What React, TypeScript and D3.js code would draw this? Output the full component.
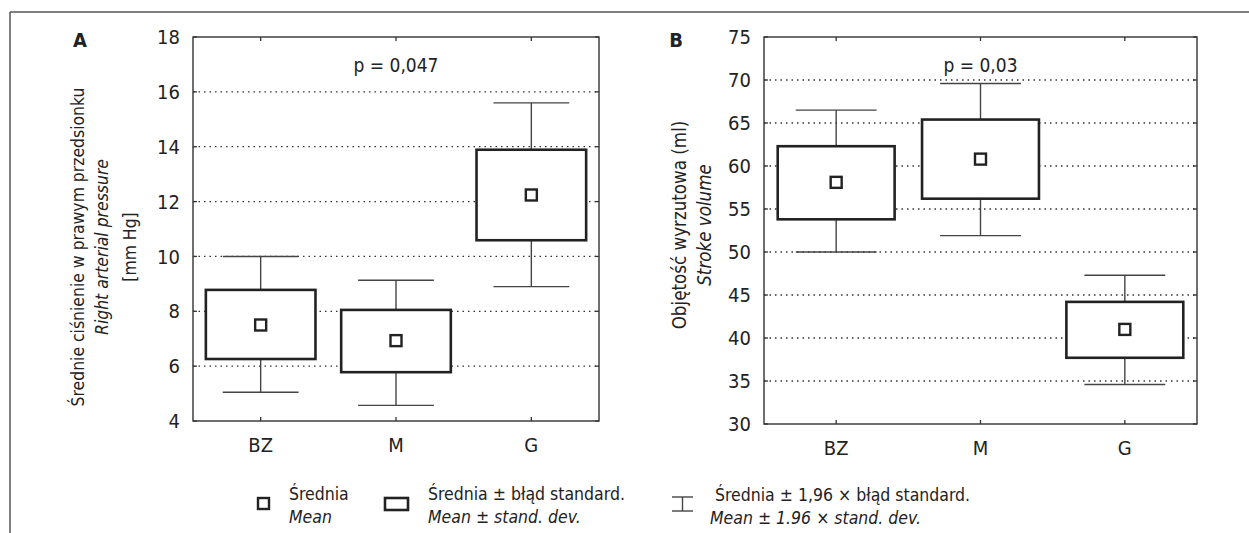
import React from "react";
import * as d3 from "d3";

const width = 1249;
const height = 533;

const categories = ["BZ", "M", "G"];

// Panel A: right arterial pressure [mm Hg]
const meanA = [7.5, 6.93, 12.24];
const seLowA = [6.26, 5.78, 10.59];
const seHighA = [8.78, 8.05, 13.89];
const ciLowA = [5.05, 4.57, 8.9];
const ciHighA = [10.0, 9.13, 15.6];
const ticksA = [4, 6, 8, 10, 12, 14, 16, 18];

// Panel B: stroke volume (ml)
const meanB = [58.1, 60.8, 41.0];
const seLowB = [53.8, 56.2, 37.7];
const seHighB = [62.3, 65.4, 44.2];
const ciLowB = [50.0, 51.9, 34.6];
const ciHighB = [66.5, 69.6, 47.3];
const ticksB = [30, 35, 40, 45, 50, 55, 60, 65, 70, 75];

const font = "'DejaVu Sans Condensed', 'DejaVu Sans', sans-serif";
const ink = "#222";

const Panel = ({ left, right, top, bottom, ticks, mean, seLow, seHigh, ciLow, ciHigh, letter, letterX, pLabel, titleLines, titleX, titleY, titleSize }) => {
  const y = d3.scaleLinear().domain([ticks[0], ticks[ticks.length - 1]]).range([bottom, top]);
  const x = d3.scalePoint().domain(categories).range([left, right]).padding(0.5);
  const step = x.step();
  const boxW = step * 0.81;
  const capW = step * 0.56;

  return (
    <g fontFamily={font} fill={ink}>
      {/* dotted grid */}
      {ticks.slice(1, -1).map((t) => (
        <line key={t} x1={left} x2={right} y1={y(t)} y2={y(t)} stroke="#333" strokeWidth={1.3} strokeDasharray="1.5,4" />
      ))}
      {/* ticks on left/right */}
      {ticks.map((t) => (
        <g key={"t" + t}>
          <line x1={left} x2={left + 4} y1={y(t)} y2={y(t)} stroke="#333" strokeWidth={1.3} />
          <line x1={right - 4} x2={right} y1={y(t)} y2={y(t)} stroke="#333" strokeWidth={1.3} />
          <text x={left - 13} y={y(t)} dy="0.36em" textAnchor="end" fontSize={20}>
            {t}
          </text>
        </g>
      ))}
      {categories.map((c) => (
        <g key={"c" + c}>
          <line x1={x(c)} x2={x(c)} y1={top} y2={top + 4} stroke="#333" strokeWidth={1.3} />
          <line x1={x(c)} x2={x(c)} y1={bottom} y2={bottom - 4} stroke="#333" strokeWidth={1.3} />
          <text x={x(c)} y={bottom + 31} textAnchor="middle" fontSize={20}>
            {c}
          </text>
        </g>
      ))}

      {/* whiskers: mean ± 1.96 × SD */}
      {categories.map((c, i) => (
        <g key={"w" + c} stroke="#444" strokeWidth={1.4}>
          <line x1={x(c)} x2={x(c)} y1={y(ciHigh[i])} y2={y(ciLow[i])} />
          <line x1={x(c) - capW / 2} x2={x(c) + capW / 2} y1={y(ciHigh[i])} y2={y(ciHigh[i])} />
          <line x1={x(c) - capW / 2} x2={x(c) + capW / 2} y1={y(ciLow[i])} y2={y(ciLow[i])} />
        </g>
      ))}
      {/* boxes: mean ± SD */}
      {categories.map((c, i) => (
        <rect
          key={"b" + c}
          x={x(c) - boxW / 2}
          y={y(seHigh[i])}
          width={boxW}
          height={y(seLow[i]) - y(seHigh[i])}
          fill="#fff"
          stroke="#222"
          strokeWidth={2.6}
        />
      ))}
      {/* means */}
      {categories.map((c, i) => (
        <rect key={"m" + c} x={x(c) - 5.5} y={y(mean[i]) - 5.5} width={11} height={11} fill="#fff" stroke="#222" strokeWidth={2.4} />
      ))}

      <rect x={left} y={top} width={right - left} height={bottom - top} fill="none" stroke="#333" strokeWidth={1.4} />

      <text x={x("M")} y={top + 35} textAnchor="middle" fontSize={19}>
        {pLabel}
      </text>
      <text x={letterX} y={top + 10} textAnchor="middle" fontSize={20} fontWeight="bold">
        {letter}
      </text>
      {titleLines.map((l, i) => (
        <text
          key={"yt" + i}
          transform={`translate(${titleX[i]},${titleY}) rotate(-90)`}
          textAnchor="middle"
          fontSize={titleSize}
          fontStyle={l.italic ? "italic" : "normal"}
        >
          {l.text}
        </text>
      ))}
    </g>
  );
};

const App = () => {
  return (
    <svg width={width} height={height} style={{ position: "absolute", left: 0, top: 0, background: "#fff" }}>
      <line x1={10} x2={width} y1={12} y2={12} stroke="#555" strokeWidth={1.5} />
      <line x1={10} x2={10} y1={12} y2={height} stroke="#555" strokeWidth={1.5} />

      <Panel
        left={193}
        right={599}
        top={37}
        bottom={421}
        ticks={ticksA}
        mean={meanA}
        seLow={seLowA}
        seHigh={seHighA}
        ciLow={ciLowA}
        ciHigh={ciHighA}
        letter="A"
        letterX={80}
        pLabel="p = 0,047"
        titleX={[84, 108, 136]}
        titleY={247}
        titleSize={17.4}
        titleLines={[
          { text: "Średnie ciśnienie w prawym przedsionku" },
          { text: "Right arterial pressure", italic: true },
          { text: "[mm Hg]" },
        ]}
      />
      <Panel
        left={764}
        right={1197}
        top={37}
        bottom={424}
        ticks={ticksB}
        mean={meanB}
        seLow={seLowB}
        seHigh={seHighB}
        ciLow={ciLowB}
        ciHigh={ciHighB}
        letter="B"
        letterX={676}
        pLabel="p = 0,03"
        titleX={[686, 711]}
        titleY={225}
        titleSize={18.6}
        titleLines={[{ text: "Objętość wyrzutowa (ml)" }, { text: "Stroke volume", italic: true }]}
      />

      {/* legend */}
      <g fontFamily={font} fill={ink} fontSize={17.5}>
        <rect x={258} y={498} width={11} height={11} fill="#fff" stroke="#222" strokeWidth={2.4} />
        <text x={289} y={500}>Średnia</text>
        <text x={289} y={523} fontStyle="italic">Mean</text>

        <rect x={385} y={498} width={23} height={12} fill="#fff" stroke="#222" strokeWidth={2.6} />
        <text x={428} y={500}>Średnia ± błąd standard.</text>
        <text x={428} y={523} fontStyle="italic">Mean ± stand. dev.</text>

        <g stroke="#444" strokeWidth={1.4}>
          <line x1={672} x2={693} y1={497} y2={497} />
          <line x1={672} x2={693} y1={511} y2={511} />
          <line x1={682.5} x2={682.5} y1={497} y2={511} />
        </g>
        <text x={715} y={501}>Średnia ± 1,96 × błąd standard.</text>
        <text x={710} y={524} fontStyle="italic">Mean  ± 1.96 × stand. dev.</text>
      </g>
    </svg>
  );
};

export default App;
